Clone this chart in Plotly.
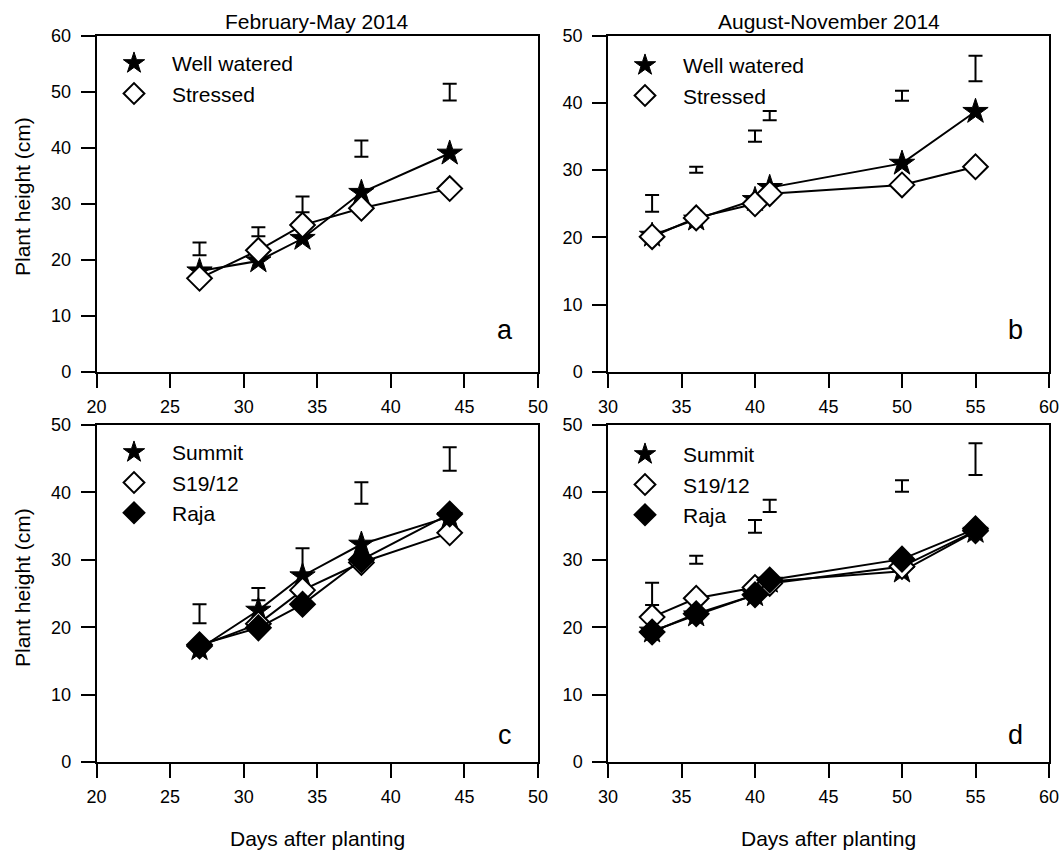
import plotly.graph_objects as go

# ---------------- data ----------------
days_feb = [27, 31, 34, 38, 44]
days_aug = [33, 36, 40, 41, 50, 55]

# panel a (February-May 2014) - water treatment
ww_a = [18.0, 19.8, 23.8, 32.0, 39.0]
st_a = [16.7, 21.7, 26.2, 29.2, 32.7]
lsd_low_a = [20.8, 24.2, 28.5, 38.4, 48.4]
lsd_high_a = [23.1, 25.8, 31.3, 41.3, 51.4]

# panel b (August-November 2014) - water treatment
ww_b = [20.3, 22.7, 25.6, 27.4, 31.0, 38.7]
st_b = [20.1, 22.9, 25.0, 26.5, 27.8, 30.5]
lsd_low_b = [23.8, 29.6, 34.2, 37.4, 40.3, 43.2]
lsd_high_b = [26.3, 30.5, 35.9, 38.8, 41.8, 47.0]

# panel c (February-May 2014) - genotypes
summit_c = [16.8, 22.5, 27.6, 32.3, 36.4]
s19_c = [17.2, 20.5, 25.5, 29.6, 34.0]
raja_c = [17.4, 19.9, 23.4, 30.0, 36.8]
lsd_low_c = [20.6, 24.0, 28.0, 38.3, 43.2]
lsd_high_c = [23.4, 25.8, 31.7, 41.5, 46.7]

# panel d (August-November 2014) - genotypes
summit_d = [19.4, 21.8, 24.8, 26.8, 28.3, 34.2]
s19_d = [21.5, 24.3, 25.9, 26.5, 29.0, 34.3]
raja_d = [19.3, 22.0, 24.8, 27.0, 30.1, 34.6]
lsd_low_d = [23.3, 29.4, 34.0, 37.1, 40.1, 42.6]
lsd_high_d = [26.6, 30.6, 35.9, 38.9, 41.8, 47.3]

titles = ["February-May 2014", "August-November 2014"]
panel_letters = ["a", "b", "c", "d"]
x_title = "Days after planting"
y_title = "Plant height (cm)"

# ---------------- styles ----------------
FONT = "Liberation Sans, Arial, Helvetica, sans-serif"
MSIZE = 19
styles = {
    "star": dict(symbol="star", size=MSIZE, color="black", line=dict(color="black", width=1)),
    "open": dict(symbol="diamond", size=MSIZE, color="white", line=dict(color="black", width=2)),
    "filled": dict(symbol="diamond", size=MSIZE, color="black", line=dict(color="black", width=2)),
}

fig = go.Figure()

panels = [
    ("x", "y", "legend", days_feb,
     [("Well watered", ww_a, "star"), ("Stressed", st_a, "open")], lsd_low_a, lsd_high_a),
    ("x2", "y2", "legend2", days_aug,
     [("Well watered", ww_b, "star"), ("Stressed", st_b, "open")], lsd_low_b, lsd_high_b),
    ("x3", "y3", "legend3", days_feb,
     [("Summit", summit_c, "star"), ("S19/12", s19_c, "open"), ("Raja", raja_c, "filled")],
     lsd_low_c, lsd_high_c),
    ("x4", "y4", "legend4", days_aug,
     [("Summit", summit_d, "star"), ("S19/12", s19_d, "open"), ("Raja", raja_d, "filled")],
     lsd_low_d, lsd_high_d),
]

for xa, ya, lg, days, series, lo, hi in panels:
    # LSD bars
    mid = [(a + b) / 2 for a, b in zip(lo, hi)]
    half = [(b - a) / 2 for a, b in zip(lo, hi)]
    fig.add_trace(go.Scatter(
        x=days, y=mid, mode="markers", xaxis=xa, yaxis=ya,
        marker=dict(size=1, opacity=0), showlegend=False, hoverinfo="skip",
        error_y=dict(type="data", array=half, visible=True, color="black",
                     thickness=2, width=7),
    ))
    for name, vals, st in series:
        fig.add_trace(go.Scatter(
            x=days, y=vals, mode="lines+markers", xaxis=xa, yaxis=ya,
            line=dict(color="black", width=2), marker=styles[st],
            name=name, showlegend=False,
        ))
    for name, vals, st in series:
        fig.add_trace(go.Scatter(
            x=[None], y=[None], mode="markers", xaxis=xa, yaxis=ya,
            marker=styles[st], name=name, showlegend=True, legend=lg,
        ))

W, H = 1064, 854


def px(v):
    return v / W


def py(v):
    return 1 - v / H


xdom_l = [px(96.5), px(538)]
xdom_r = [px(608), px(1049)]
ydom_t = [py(372), py(35.5)]
ydom_b = [py(762), py(425)]

axis_common = dict(
    showgrid=False, zeroline=False, showline=True, mirror=True,
    linecolor="black", linewidth=1.5, ticks="outside", ticklen=14,
    tickwidth=2, tickcolor="black",
    tickfont=dict(family=FONT, size=18, color="black"),
)
xcommon = dict(dtick=5, ticklabelstandoff=4, **axis_common)
ycommon = dict(dtick=10, ticklabelstandoff=6, **axis_common)

fig.update_layout(
    width=W, height=H, margin=dict(l=0, r=0, t=0, b=0, autoexpand=False),
    paper_bgcolor="white", plot_bgcolor="white",
    font=dict(family=FONT, color="black"),
    xaxis=dict(domain=xdom_l, anchor="y", range=[20, 50], **xcommon),
    yaxis=dict(domain=ydom_t, anchor="x", range=[0, 60], **ycommon),
    xaxis2=dict(domain=xdom_r, anchor="y2", range=[30, 60], **xcommon),
    yaxis2=dict(domain=ydom_t, anchor="x2", range=[0, 50], **ycommon),
    xaxis3=dict(domain=xdom_l, anchor="y3", range=[20, 50], **xcommon),
    yaxis3=dict(domain=ydom_b, anchor="x3", range=[0, 50], **ycommon),
    xaxis4=dict(domain=xdom_r, anchor="y4", range=[30, 60], **xcommon),
    yaxis4=dict(domain=ydom_b, anchor="x4", range=[0, 50], **ycommon),
)

legend_common = dict(
    bgcolor="rgba(0,0,0,0)", borderwidth=0, itemwidth=66,
    font=dict(family=FONT, size=21, color="black"),
    xanchor="left", yanchor="top", itemclick=False, itemdoubleclick=False,
    tracegroupgap=0,
)
fig.update_layout(
    legend=dict(x=px(96), y=py(43), **legend_common),
    legend2=dict(x=px(607), y=py(45), **legend_common),
    legend3=dict(x=px(96), y=py(432), **legend_common),
    legend4=dict(x=px(607), y=py(434), **legend_common),
)

ann = []
for t, dom in zip(titles, (xdom_l, xdom_r)):
    ann.append(dict(text=t, x=(dom[0] + dom[1]) / 2, y=py(21), xref="paper", yref="paper",
                    showarrow=False, font=dict(family=FONT, size=21), xanchor="center", yanchor="middle"))
for dom in (xdom_l, xdom_r):
    ann.append(dict(text=x_title, x=(dom[0] + dom[1]) / 2, y=py(838), xref="paper", yref="paper",
                    showarrow=False, font=dict(family=FONT, size=21), xanchor="center", yanchor="middle"))
for yc in (197, 588):
    ann.append(dict(text=y_title, x=px(22), y=py(yc), xref="paper", yref="paper", textangle=-90,
                    showarrow=False, font=dict(family=FONT, size=21), xanchor="center", yanchor="middle"))
for letter, xr, yr in zip(panel_letters, ["x", "x2", "x3", "x4"], ["y", "y2", "y3", "y4"]):
    ann.append(dict(text=letter, x=0.925, y=0.125 if yr in ("y", "y2") else 0.08,
                    xref=f"{xr} domain", yref=f"{yr} domain", showarrow=False,
                    font=dict(family=FONT, size=27), xanchor="center", yanchor="middle"))
fig.update_layout(annotations=ann)

# remove the browser's default 8px page margin so the figure fills the window exactly
fig.write_html("out.html", config={"displayModeBar": False},
               post_script="document.body.style.margin='0';document.body.style.overflow='hidden';")
